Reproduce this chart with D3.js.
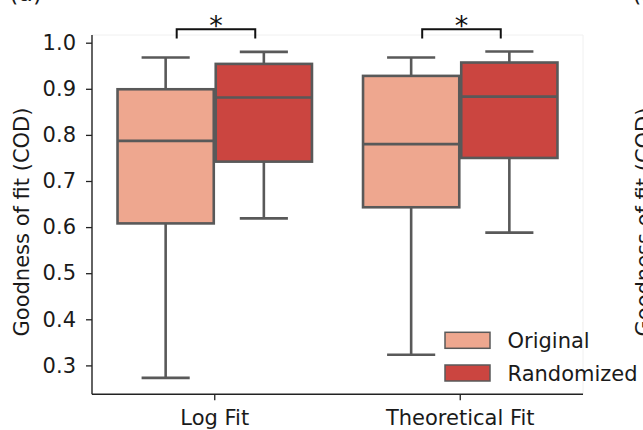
<!DOCTYPE html>
<html><head><meta charset="utf-8">
<script src="https://cdn.jsdelivr.net/npm/d3@7"></script>
<style>body{margin:0;background:#fff;} svg{display:block;} text{font-family:"DejaVu Sans",sans-serif;}</style>
</head><body>
<script>
// ---- data ----
const categories = ["Log Fit", "Theoretical Fit"];
const groups = ["Original", "Randomized"];
// [whiskerLow, Q1, median, Q3, whiskerHigh] per category
const originalStats = [[0.273, 0.608, 0.787, 0.899, 0.968], [0.323, 0.643, 0.780, 0.928, 0.968]];
const randomizedStats = [[0.619, 0.742, 0.881, 0.954, 0.980], [0.588, 0.750, 0.883, 0.957, 0.981]];
const yTicks = [0.3, 0.4, 0.5, 0.6, 0.7, 0.8, 0.9, 1.0];
const significance = ["*", "*"];
const colors = ["#eea78f", "#cb4540"];

const W = 643, H = 430;
const svg = d3.select("body").append("svg").attr("width", W).attr("height", H);
const L = 92, R = 583, T = 35, B = 394.3;
const x = d3.scaleBand().domain(categories).range([L, R]).padding(0);
const y = d3.scaleLinear().domain([0.2373, 1.0167]).range([B, T]);
const bw = x.bandwidth();
const hue = d3.scaleBand().domain(groups).range([-0.4 * bw, 0.4 * bw]);
const boxW = hue.bandwidth() * 0.98;
const edge = "#595959", lw = 2.6;
const fs = 21;

// faint frame top/right
svg.append("path").attr("d", `M${L},${T}H${R}V${B}`).attr("fill", "none").attr("stroke", "#f0f0f0").attr("stroke-width", 1);

const allStats = [originalStats, randomizedStats];
categories.forEach((c, ci) => {
  groups.forEach((g, gi) => {
    const s = allStats[gi][ci];
    const cx = x(c) + bw / 2 + hue(g) + hue.bandwidth() / 2;
    const gEl = svg.append("g");
    gEl.append("line").attr("x1", cx).attr("x2", cx).attr("y1", y(s[0])).attr("y2", y(s[1])).attr("stroke", edge).attr("stroke-width", lw);
    gEl.append("line").attr("x1", cx).attr("x2", cx).attr("y1", y(s[3])).attr("y2", y(s[4])).attr("stroke", edge).attr("stroke-width", lw);
    [s[0], s[4]].forEach(v => gEl.append("line").attr("x1", cx - boxW / 4).attr("x2", cx + boxW / 4).attr("y1", y(v)).attr("y2", y(v)).attr("stroke", edge).attr("stroke-width", lw));
    gEl.append("rect").attr("x", cx - boxW / 2).attr("width", boxW).attr("y", y(s[3])).attr("height", y(s[1]) - y(s[3]))
      .attr("fill", colors[gi]).attr("stroke", edge).attr("stroke-width", lw);
    gEl.append("line").attr("x1", cx - boxW / 2).attr("x2", cx + boxW / 2).attr("y1", y(s[2])).attr("y2", y(s[2])).attr("stroke", edge).attr("stroke-width", lw);
  });
  const cc = x(c) + bw / 2;
  const x1 = cc - 0.155 * bw, x2 = cc + 0.165 * bw;
  svg.append("path").attr("d", `M${x1},38.5V29.3H${x2}V38.5`).attr("fill", "none").attr("stroke", "#111").attr("stroke-width", 2);
  svg.append("text").attr("x", (x1 + x2) / 2).attr("y", 35).attr("text-anchor", "middle").attr("font-size", 27).attr("fill", "#111").text(significance[ci]);
});

// axes
const yAxis = d3.axisLeft(y).tickValues(yTicks).tickFormat(d3.format(".1f")).tickSize(6).tickPadding(10);
const ya = svg.append("g").attr("transform", `translate(${L},0)`).call(yAxis);
const xAxis = d3.axisBottom(x).tickSize(6).tickPadding(10);
const xa = svg.append("g").attr("transform", `translate(0,${B})`).call(xAxis);
[ya, xa].forEach(a => {
  a.select(".domain").remove();
  a.selectAll(".tick line").attr("stroke", "#222").attr("stroke-width", 1.3);
  a.selectAll(".tick text").attr("font-size", fs).attr("fill", "#1a1a1a").style("font-family", '"DejaVu Sans",sans-serif');
});
svg.append("line").attr("x1", L).attr("x2", L).attr("y1", T).attr("y2", B).attr("stroke", "#222").attr("stroke-width", 1.4);
svg.append("line").attr("x1", L).attr("x2", R).attr("y1", B).attr("y2", B).attr("stroke", "#222").attr("stroke-width", 1.4);

// y label
svg.append("text").attr("transform", `translate(29,222) rotate(-90)`).attr("text-anchor", "middle").attr("font-size", fs).attr("fill", "#1a1a1a").text("Goodness of fit (COD)");

// legend
groups.forEach((g, i) => {
  const yy = 332.3 + i * 32.7;
  svg.append("rect").attr("x", 445).attr("y", yy).attr("width", 45).attr("height", 16).attr("fill", colors[i]).attr("stroke", edge).attr("stroke-width", 1.5);
  svg.append("text").attr("x", 507.5).attr("y", yy + 16).attr("font-size", fs).attr("fill", "#1a1a1a").text(g);
});

// clipped neighbour panel fragments
svg.append("text").attr("x", 9).attr("y", 1).attr("font-size", 24).attr("fill", "#1a1a1a").text("(a)");
svg.append("text").attr("x", 632).attr("y", 1).attr("font-size", 24).attr("fill", "#1a1a1a").text("(b)");
svg.append("text").attr("transform", `translate(651,222) rotate(-90)`).attr("text-anchor", "middle").attr("font-size", fs).attr("fill", "#1a1a1a").text("Goodness of fit (COD)");
</script>
</body></html>
